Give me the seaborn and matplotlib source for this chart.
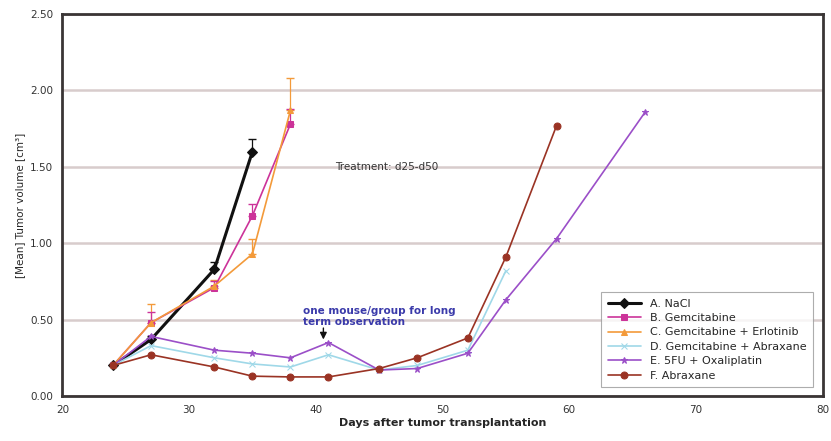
import pandas as pd
import seaborn as sns
import matplotlib.pyplot as plt

# days of measurement
days_short = [24, 27, 32, 35, 38]
days_long = [24, 27, 32, 35, 38, 41, 45, 48, 52, 55, 59, 66]

a_days = [24, 27, 32, 35]
a_vals = [0.20, 0.37, 0.83, 1.60]
a_err = [0.0, 0.02, 0.05, 0.08]

b_vals = [0.20, 0.48, 0.71, 1.18, 1.78]
b_err = [0.0, 0.07, 0.04, 0.08, 0.10]

c_vals = [0.20, 0.48, 0.72, 0.93, 1.87]
c_err = [0.0, 0.12, 0.04, 0.10, 0.21]

d_days = [24, 27, 32, 35, 38, 41, 45, 48, 52, 55]
d_vals = [0.20, 0.33, 0.25, 0.21, 0.19, 0.27, 0.17, 0.20, 0.30, 0.82]

e_days = days_long
e_vals = [0.20, 0.39, 0.30, 0.28, 0.25, 0.35, 0.17, 0.18, 0.28, 0.63, 1.03, 1.86]

f_days = days_long[:-1]
f_vals = [0.20, 0.27, 0.19, 0.13, 0.125, 0.125, 0.18, 0.25, 0.38, 0.91, 1.77]

labels = ["A. NaCl", "B. Gemcitabine", "C. Gemcitabine + Erlotinib",
          "D. Gemcitabine + Abraxane", "E. 5FU + Oxaliplatin", "F. Abraxane"]
colors = ["#111111", "#cc3399", "#f39a3a", "#9fd8e8", "#9b4fc8", "#9a3324"]
markers = ["D", "s", "^", "x", "*", "o"]


def main():
    sns.set_style("white")
    plt.rcParams['font.family'] = ['DejaVu Sans']
    fig = plt.figure(figsize=(8.31, 4.41), dpi=100)
    ax = fig.add_axes([0.075, 0.102, 0.915, 0.866])

    series = [
        (a_days, a_vals, a_err),
        (days_short, b_vals, b_err),
        (days_short, c_vals, c_err),
        (d_days, d_vals, None),
        (e_days, e_vals, None),
        (f_days, f_vals, None),
    ]
    # light series first so black / red lines sit on top
    order = [3, 2, 1, 4, 5, 0]
    for i in order:
        x, y, err = series[i]
        df = pd.DataFrame({"day": x, "vol": y})
        lw = 2.2 if i == 0 else 1.2
        sns.lineplot(data=df, x="day", y="vol", ax=ax, color=colors[i],
                     marker=markers[i], markersize=5, linewidth=lw,
                     markeredgecolor=colors[i], label=labels[i], zorder=3 + i)
        if err is not None:
            ax.errorbar(x, y, yerr=[[0] * len(err), err], fmt="none",
                        ecolor=colors[i], elinewidth=0.9, capsize=3, zorder=3)

    # legend in A..F order
    handles, labs = ax.get_legend_handles_labels()
    hmap = dict(zip(labs, handles))
    leg = ax.legend([hmap[l] for l in labels], labels, loc="lower right",
                    fontsize=8, frameon=True, fancybox=False,
                    edgecolor="#999999", borderpad=0.6, labelspacing=0.4,
                    handlelength=3.0, bbox_to_anchor=(0.995, 0.008))
    leg.get_frame().set_linewidth(0.8)

    ax.set_xlim(20, 80)
    ax.set_ylim(0, 2.5)
    ax.set_xticks([20, 30, 40, 50, 60, 70, 80])
    ax.set_yticks([0, 0.5, 1.0, 1.5, 2.0, 2.5])
    ax.set_yticklabels([f"{v:.2f}" for v in [0, 0.5, 1.0, 1.5, 2.0, 2.5]])
    ax.tick_params(labelsize=7.5, length=3, direction="out", colors="#333333")
    ax.grid(axis="y", color="#d8cccc", linewidth=1.8)
    ax.set_axisbelow(True)
    for s in ax.spines.values():
        s.set_color("#3a3535")
        s.set_linewidth(2)

    ax.set_xlabel("Days after tumor transplantation", fontsize=8,
                  fontweight="bold", labelpad=2)
    ax.set_ylabel("[Mean] Tumor volume [cm³]", fontsize=7.5, labelpad=4)

    ax.text(41.5, 1.50, "Treatment: d25-d50", fontsize=7.5, color="#333333",
            va="center")
    ax.text(39.0, 0.45, "one mouse/group for long\nterm observation",
            fontsize=7.5, fontweight="bold", color="#3a3aaa",
            ha="left", va="bottom")
    ax.annotate("", xy=(40.6, 0.37), xytext=(40.6, 0.445),
                arrowprops=dict(arrowstyle="-|>", color="#111111", lw=1,
                                shrinkA=0, shrinkB=0))

    fig.savefig("out.png", dpi=100)
    plt.close(fig)


if __name__ == "__main__":
    main()
